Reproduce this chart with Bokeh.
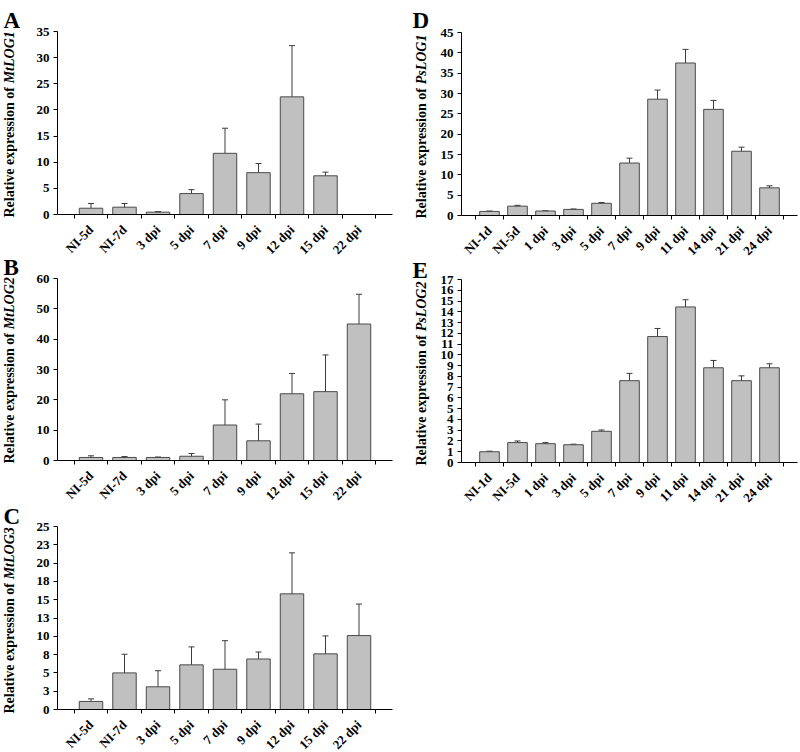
from math import pi
import numpy as np
from bokeh.plotting import figure
from bokeh.models import ColumnDataSource, Range1d, FixedTicker, Whisker, TeeHead, Label, LabelSet
from bokeh.layouts import row, column
from bokeh.embed import file_html
from bokeh.resources import INLINE

NAN = float("nan")

# ---------------- data ----------------
mt_cats = ["NI-5d", "NI-7d", "3 dpi", "5 dpi", "7 dpi", "9 dpi", "12 dpi", "15 dpi", "22 dpi"]
ps_cats = ["NI-1d", "NI-5d", "1 dpi", "3 dpi", "5 dpi", "7 dpi", "9 dpi", "11 dpi", "14 dpi", "21 dpi", "24 dpi"]

mtlog1_vals = [1.2, 1.4, 0.45, 4.0, 11.7, 8.0, 22.5, 7.4, NAN]
mtlog1_errs = [0.9, 0.7, 0.1, 0.75, 4.8, 1.75, 9.8, 0.7, NAN]
mtlog2_vals = [1.0, 1.0, 1.0, 1.4, 11.7, 6.5, 22.0, 22.7, 45.0]
mtlog2_errs = [0.55, 0.3, 0.15, 0.9, 8.3, 5.5, 6.7, 12.1, 9.8]
mtlog3_vals = [1.1, 5.0, 3.1, 6.1, 5.5, 6.9, 15.8, 7.6, 10.1]
mtlog3_errs = [0.35, 2.55, 2.2, 2.45, 3.9, 0.95, 5.6, 2.45, 4.3]
pslog1_vals = [1.0, 2.3, 1.1, 1.5, 3.0, 12.9, 28.6, 37.5, 26.1, 15.8, 6.8]
pslog1_errs = [0.1, 0.2, 0.05, 0.1, 0.2, 1.2, 2.25, 3.35, 2.2, 1.0, 0.5]
pslog2_vals = [1.0, 1.85, 1.75, 1.65, 2.9, 7.6, 11.7, 14.45, 8.8, 7.6, 8.8]
pslog2_errs = [0.05, 0.15, 0.1, 0.05, 0.12, 0.68, 0.75, 0.67, 0.68, 0.45, 0.37]

ticks_A = [0, 5, 10, 15, 20, 25, 30, 35]
labels_A = [str(t) for t in ticks_A]
ticks_B = [0, 10, 20, 30, 40, 50, 60]
labels_B = [str(t) for t in ticks_B]
ticks_C = [0, 2.5, 5, 7.5, 10, 12.5, 15, 17.5, 20, 22.5, 25]
labels_C = ["0", "3", "5", "8", "10", "13", "15", "18", "20", "23", "25"]
ticks_D = [0, 5, 10, 15, 20, 25, 30, 35, 40, 45]
labels_D = [str(t) for t in ticks_D]
ticks_E = list(range(0, 18))
labels_E = [str(t) for t in ticks_E]

# ---------------- styling ----------------
FONT = "Liberation Serif"
BAR_FILL = "#c0c0c0"
BAR_LINE = "#4a4a4a"
ERR_COLOR = "#3c3c3c"
LABEL_PX = 14
PREFIX = "Relative expression of"
PREFIX_EM = 9.582  # advance width (em) of the bold prefix incl. trailing space
XLAB_PX = 13
YTICK_PX = 13
MAIN_BOTTOM = 8
XLAB_DROP = 13  # px from the x axis line down to the label anchor


def bare_fig(w, h, xr, yr, left=0, right=0):
    s = figure(width=w, height=h, title=None, x_range=xr, y_range=yr,
               x_axis_location=None, y_axis_location=None,
               min_border_left=left, min_border_right=right, min_border_top=0, min_border_bottom=0,
               output_backend="svg", toolbar_location=None)
    s.outline_line_color = None
    s.grid.visible = False
    return s


def panel(cats, vals, errs, yticks, ylabels, main_w, left, right, top, frame_h, xs_h):
    """returns [main plot, category-label strip below it]"""
    n = len(cats)
    idx = np.arange(n, dtype=float)
    v = np.array(vals, dtype=float)
    e = np.array(errs, dtype=float)
    src = ColumnDataSource(dict(x=idx, top=v, upper=v + e, lower=v - e))

    xr = Range1d(-1, n)
    p = figure(width=main_w, height=top + frame_h + MAIN_BOTTOM, title=None,
               x_range=xr, y_range=Range1d(yticks[0], yticks[-1]),
               output_backend="svg", toolbar_location=None,
               min_border_left=left, min_border_right=right,
               min_border_top=top, min_border_bottom=MAIN_BOTTOM)
    p.outline_line_color = None
    p.grid.visible = False

    p.vbar(x="x", top="top", width=0.7, source=src, fill_color=BAR_FILL,
           line_color=BAR_LINE, line_width=1)
    wk = Whisker(base="x", upper="upper", lower="lower", source=src,
                 line_color=ERR_COLOR, line_width=1,
                 upper_head=TeeHead(size=6, line_color=ERR_COLOR, line_width=1),
                 lower_head=TeeHead(size=6, line_color=ERR_COLOR, line_width=1))
    p.add_layout(wk)

    xa = p.xaxis[0]
    xa.ticker = FixedTicker(ticks=[], minor_ticks=[i - 0.5 for i in range(n + 1)])
    xa.major_tick_out = 0
    xa.major_tick_in = 0
    xa.minor_tick_out = 4
    xa.minor_tick_in = 0
    xa.minor_tick_line_color = "black"
    xa.major_label_standoff = 0
    xa.axis_line_color = "black"

    ya = p.yaxis[0]
    ya.ticker = FixedTicker(ticks=yticks, minor_ticks=[])
    ya.major_label_overrides = {t: l for t, l in zip(yticks, ylabels)}
    ya.major_tick_out = 4
    ya.major_tick_in = 0
    ya.minor_tick_out = 0
    ya.minor_tick_in = 0
    ya.major_tick_line_color = "black"
    ya.major_label_standoff = 4
    ya.major_label_text_font = FONT
    ya.major_label_text_font_style = "bold"
    ya.major_label_text_font_size = f"{YTICK_PX}px"
    ya.major_label_text_color = "black"
    ya.axis_line_color = "black"

    xs = bare_fig(main_w, xs_h, xr, Range1d(0, 1), left, right)
    lsrc = ColumnDataSource(dict(x=idx, text=cats))
    xs.add_layout(LabelSet(x="x", y=xs_h - (XLAB_DROP - MAIN_BOTTOM), y_units="screen", text="text",
                           source=lsrc, angle=pi / 4, text_align="right", text_baseline="middle",
                           text_font=FONT, text_font_style="bold",
                           text_font_size=f"{XLAB_PX}px", text_color="black"))
    return [p, xs]


def side_strip(w, h, letters, genes, letter_x, ylab_x, letter_base_y, frame_bottom_y):
    st = bare_fig(w, h, Range1d(0, 1), Range1d(0, 1))
    for let, gene, by, fb in zip(letters, genes, letter_base_y, frame_bottom_y):
        y0 = h - fb - 3
        st.add_layout(Label(x=ylab_x, y=y0, x_units="screen", y_units="screen",
                            text=PREFIX, angle=pi / 2, text_align="left", text_baseline="middle",
                            text_font=FONT, text_font_style="bold",
                            text_font_size=f"{LABEL_PX}px", text_color="black"))
        st.add_layout(Label(x=ylab_x, y=y0 + PREFIX_EM * LABEL_PX, x_units="screen", y_units="screen",
                            text=gene, angle=pi / 2, text_align="left", text_baseline="middle",
                            text_font=FONT, text_font_style="bold italic",
                            text_font_size=f"{LABEL_PX}px", text_color="black"))
        st.add_layout(Label(x=letter_x, y=h - by, x_units="screen", y_units="screen",
                            text=let, text_align="left", text_baseline="alphabetic",
                            text_font=FONT, text_font_style="bold",
                            text_font_size="23px", text_color="black"))
    return st


# left column: A (frame 31-214), B (278-460), C (527-710)
colL = (panel(mt_cats, mtlog1_vals, mtlog1_errs, ticks_A, labels_A, 378, 35, 8, 31, 183, 47)
        + panel(mt_cats, mtlog2_vals, mtlog2_errs, ticks_B, labels_B, 378, 35, 8, 9, 182, 50)
        + panel(mt_cats, mtlog3_vals, mtlog3_errs, ticks_C, labels_C, 378, 35, 8, 8, 183, 34))
stripL = side_strip(22, 752, ["A", "B", "C"], ["MtLOG1", "MtLOG2", "MtLOG3"], 3, 9,
                    [20, 267, 516], [214, 460, 710])

# right column: D (frame 32-215), E (279-462)
colR = (panel(ps_cats, pslog1_vals, pslog1_errs, ticks_D, labels_D, 368, 29, 3, 32, 183, 47)
        + panel(ps_cats, pslog2_vals, pslog2_errs, ticks_E, labels_E, 368, 29, 3, 9, 183, 37))
stripR = side_strip(32, 507, ["D", "E"], ["PsLOG1", "PsLOG2"], 12, 21,
                    [20, 270], [215, 462])

layout = row(row(stripL, column(*colL)), row(stripR, column(*colR)))

open("out.html", "w").write(file_html(layout, INLINE))
